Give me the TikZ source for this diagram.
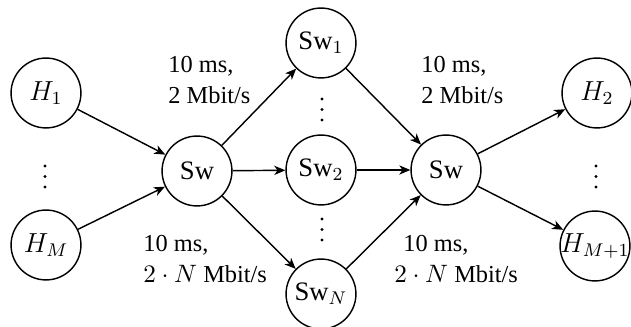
\documentclass[tikz,border=0pt]{standalone}
\usepackage{fontspec}
\setmainfont{Liberation Serif}
\usetikzlibrary{arrows.meta}

\tikzset{
  hostnode/.style={circle, draw, line width=0.62pt, minimum size=30.4pt, inner sep=0pt,
                   font=\fontsize{11.6}{14}\selectfont},
  link/.style={line width=0.62pt, -{Stealth[length=4.8pt,width=4pt,inset=1.4pt]}},
  linklabel/.style={anchor=west, align=left, inner sep=0pt},
  ellipsisdot/.style={fill=black},
}

\begin{document}
\begin{tikzpicture}[x=0.435pt, y=-0.435pt, font=\fontsize{10.6}{13.5}\selectfont]
\useasboundingbox (0,0) rectangle (631,327);

% hosts on the left
\node[hostnode] (h1) at (46,93)  {\makebox[0pt]{$H_1$}};
\node[hostnode] (hm) at (46,245) {\makebox[0pt]{$H_M$}};

% switches
\node[hostnode] (swl) at (197,171) {\makebox[0pt]{Sw}};
\node[hostnode] (sw1) at (321,43)  {\makebox[0pt]{Sw$_1$}};
\node[hostnode] (sw2) at (321,170) {\makebox[0pt]{Sw$_2$}};
\node[hostnode] (swn) at (321,294) {\makebox[0pt]{Sw$_N$}};
\node[hostnode] (swr) at (446,170) {\makebox[0pt]{Sw}};

% hosts on the right
\node[hostnode] (h2)  at (597,93)  {\makebox[0pt]{$H_2$}};
\node[hostnode] (hm1) at (595,246) {\makebox[0pt]{$H_{M+1}$}};

% vertical ellipses between repeated nodes
\foreach \x/\y in {45/166, 322/99, 322/219, 596/166}
  \foreach \k in {0,1,2}
    \fill[ellipsisdot] (\x,\y+10.5*\k) circle (1.6);

% links
\draw[link] (h1) -- (swl);
\draw[link] (hm) -- (swl);
\draw[link] (swl) -- (sw1);
\draw[link] (swl) -- (sw2);
\draw[link] (swl) -- (swn);
\draw[link] (sw1) -- (swr);
\draw[link] (sw2) -- (swr);
\draw[link] (swn) -- (swr);
\draw[link] (swr) -- (h2);
\draw[link] (swr) -- (hm1);

% link parameters
\node[linklabel] (lbltl) at (168,80)  {10~ms,\\2 Mbit/s};
\node[linklabel] (lbltr) at (421,80)  {10~ms,\\2 Mbit/s};
\node[linklabel] (lblbl) at (143,259) {10~ms,\\$2\cdot N$ Mbit/s};
\node[linklabel] (lblbr) at (394,259) {\hspace*{3.9pt}10~ms,\\$2\cdot N$ Mbit/s};
\end{tikzpicture}
\end{document}
